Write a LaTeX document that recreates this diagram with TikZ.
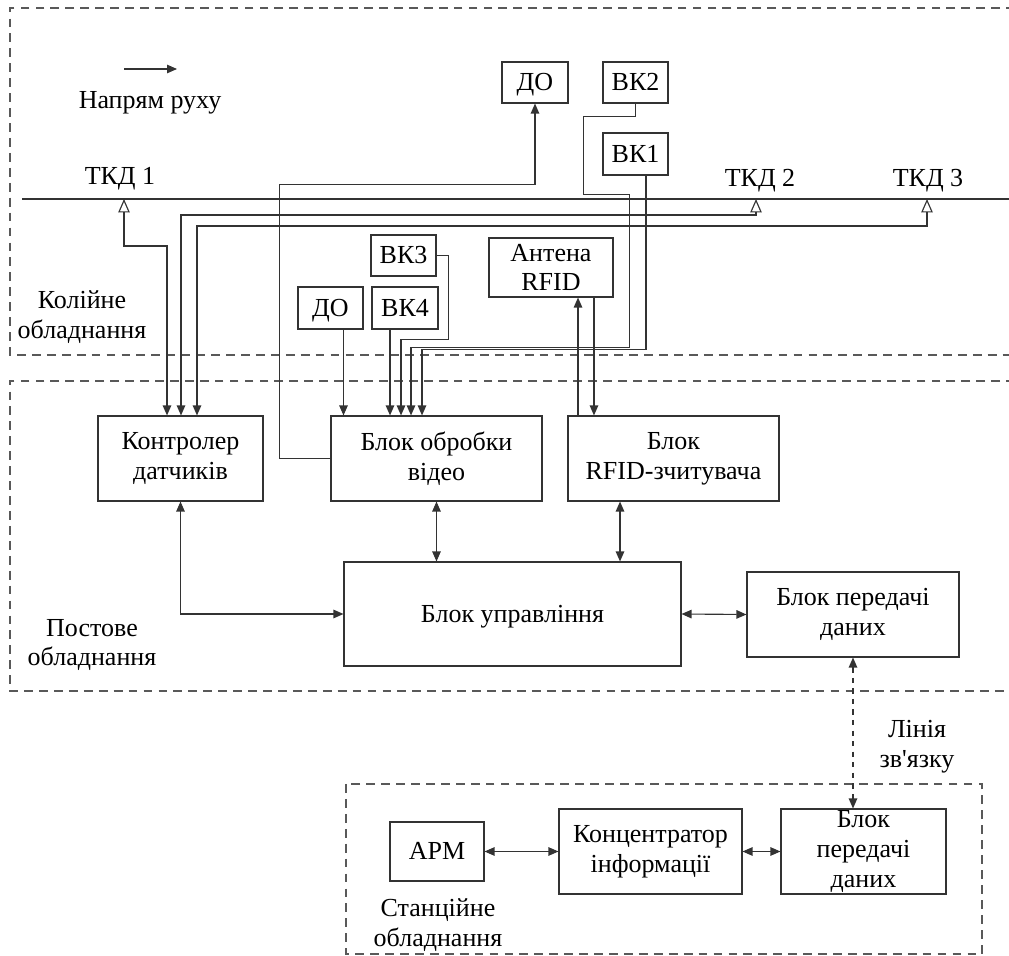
\documentclass[tikz,border=0pt]{standalone}
\usepackage{fontspec}
\setmainfont{Liberation Serif}
\usetikzlibrary{arrows.meta}
\tikzset{
    sbox/.style={draw=black!80, line width=0.65pt, inner sep=0pt, font=\fontsize{14.8}{17}\selectfont, text height=9.8pt, text depth=0.6pt},
    blk/.style={draw=black!80, line width=0.65pt, align=center, inner sep=0pt, font=\fontsize{14.8}{17}\selectfont},
    lbl/.style={align=center, inner sep=0pt, font=\fontsize{14.8}{17}\selectfont},
    wire/.style={draw=black!80, line width=0.65pt},
    arr/.style={wire, -{Triangle[length=2mm,width=1.7mm]}},
    biarr/.style={wire, {Triangle[length=2mm,width=1.7mm]}-{Triangle[length=2mm,width=1.7mm]}},
    sens/.style={wire, {Triangle[open,length=2.7mm,width=2.3mm]}-{Triangle[length=2mm,width=1.7mm]}},
    zone/.style={draw=black!65, line width=0.65pt, dash pattern=on 5pt off 3.5pt}
}
\begin{document}
\begin{tikzpicture}[x=0.02cm, y=-0.02cm]
                \useasboundingbox (0,0) rectangle (1009,956);

                \coordinate (railW) at (22,199);
                \coordinate (railE) at (1015,199);
                \coordinate (sOne) at (124,199);
                \coordinate (sTwo) at (756,199);
                \coordinate (sThree) at (927,199);
                \coordinate (dirA) at (124,69);
                \coordinate (dirB) at (177,69);

                \draw[zone] (1015,8) -| (10,355) -- (1015,355);
                \draw[zone] (1015,381) -| (10,691) -- (1015,691);
                \draw[zone] (346,784) rectangle (982,954);

                \draw[wire] (railW) -- (railE);
                \draw[arr] (dirA) -- (dirB);
                \node[lbl] (dir) at (150,103) {Напрям руху};
                \node[lbl] (tkdOne) at (120,179) {ТКД 1};
                \node[lbl] (tkdTwo) at (760,181) {ТКД 2};
                \node[lbl] (tkdThree) at (928,181) {ТКД 3};
                \node[lbl] (trackTxt) at (82,317) {Колійне\\обладнання};
                \node[lbl] (postTxt) at (92,645) {Постове\\обладнання};
                \node[lbl] (stTxt) at (438,925) {Станційне\\обладнання};
                \node[lbl] (lineTxt) at (917,747) {Лінія\\зв\textquotesingle язку};

                \node[sbox, minimum width=1.32cm, minimum height=0.82cm] (doA) at (535,82.5) {ДО};
                \node[sbox, minimum width=1.30cm, minimum height=0.82cm] (vkTwo) at (635.5,82.5) {ВК2};
                \node[sbox, minimum width=1.30cm, minimum height=0.84cm] (vkOne) at (635.5,154) {ВК1};
                \node[blk, minimum width=2.48cm, minimum height=1.18cm] (ant) at (551,267.5) {Антена\\RFID};
                \node[sbox, minimum width=1.30cm, minimum height=0.82cm] (vkThree) at (403.5,255.5) {ВК3};
                \node[sbox, minimum width=1.32cm, minimum height=0.84cm] (vkFour) at (405,308) {ВК4};
                \node[sbox, minimum width=1.30cm, minimum height=0.84cm] (doB) at (330.5,308) {ДО};

                \node[blk, minimum width=3.30cm, minimum height=1.70cm] (ctrl) at (180.5,458.5) {Контролер\\датчиків};
                \node[blk, minimum width=4.22cm, minimum height=1.70cm] (video) at (436.5,458.5) {Блок обробки\\відео};
                \node[blk, minimum width=4.22cm, minimum height=1.70cm] (rfid) at (673.5,458.5) {Блок\\RFID-зчитувача};
                \node[sbox, minimum width=6.74cm, minimum height=2.08cm] (mgmt) at (512.5,614) {Блок управління};
                \node[blk, minimum width=4.24cm, minimum height=1.70cm] (txA) at (853,614.5) {Блок передачі\\даних};

                \node[sbox, minimum width=1.88cm, minimum height=1.18cm] (arm) at (437,851.5) {АРМ};
                \node[blk, minimum width=3.66cm, minimum height=1.70cm] (conc) at (650.5,851.5) {Концентратор\\інформації};
                \node[blk, minimum width=3.30cm, minimum height=1.70cm] (txB) at (863.5,851.5) {Блок\\передачі\\даних};

                \draw[sens] (sOne) -- ++(0,47) -| ([xshift=-0.27cm]ctrl.north);
                \draw[sens] (sTwo) -- ++(0,16) -| ([xshift=0.01cm]ctrl.north);
                \draw[sens] (sThree) -- ++(0,27) -| ([xshift=0.33cm]ctrl.north);

                \draw[arr] (video.west) -| ++(-51,-274) -| (doA.south);
                \draw[arr] ([xshift=0.26cm]doB.south) -- ([xshift=0.26cm]doB.south |- video.north);
                \draw[arr] ([xshift=-0.3cm]vkFour.south) -- ([xshift=-0.3cm]vkFour.south |- video.north);
                \draw[arr] (vkThree.east) -| ++(12,84) -| ([xshift=-0.71cm]video.north);
                \draw[arr] (vkTwo.south) -- ++(0,13) -| ++(-52,78) -| ++(46,153) -| ([xshift=-0.51cm]video.north);
                \draw[arr] ([xshift=0.21cm]vkOne.south) -- ++(0,174) -| ([xshift=-0.29cm]video.north);

                \draw[arr] ([xshift=-1.91cm]rfid.north) -- ([xshift=-1.91cm]rfid.north |- ant.south);
                \draw[arr] ([xshift=0.86cm]ant.south) -- ([xshift=0.86cm]ant.south |- rfid.north);

                \draw[biarr] (ctrl.south) |- (mgmt.west);
                \draw[biarr] (video.south) -- (video.south |- mgmt.north);
                \draw[biarr] ([xshift=-1.07cm]rfid.south) -- ([xshift=-1.07cm]rfid.south |- mgmt.north);
                \draw[biarr] (mgmt.east) -- (txA.west);
                \draw[biarr, dashed] (txA.south) -- (txA.south |- txB.north);

                \draw[biarr] (arm.east) -- (conc.west);
                \draw[biarr] (conc.east) -- (txB.west);
            \end{tikzpicture}
\end{document}
